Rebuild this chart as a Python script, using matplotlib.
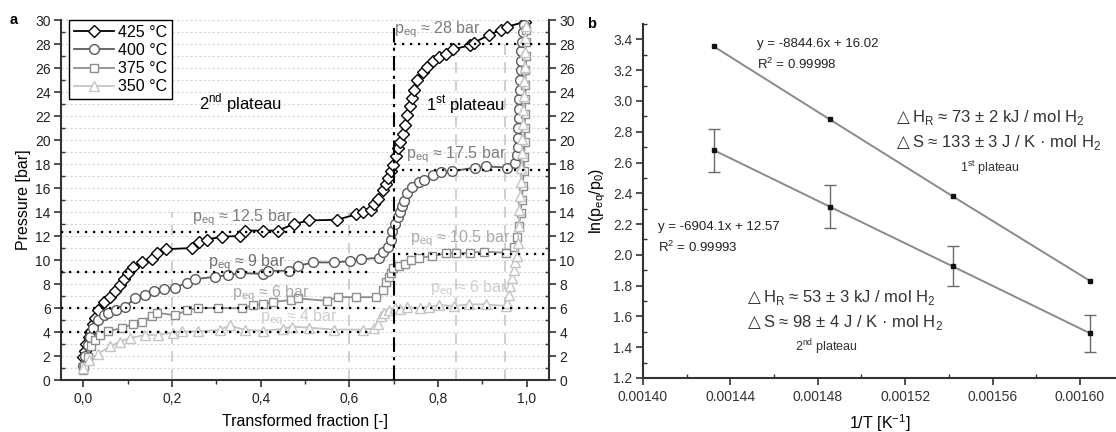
import matplotlib
matplotlib.use("Agg")
import matplotlib.pyplot as plt
from matplotlib.ticker import MultipleLocator, FuncFormatter

plt.rcParams["font.family"] = ["Liberation Sans", "DejaVu Sans"]
plt.rcParams["axes.unicode_minus"] = False

# ---------------- panel a: pressure vs transformed fraction ----------------
frac_425 = [0.000, 0.004, 0.007, 0.012, 0.016, 0.022, 0.027, 0.034, 0.046, 0.061,
            0.072, 0.083, 0.092, 0.102, 0.113, 0.132, 0.154, 0.166, 0.187, 0.246,
            0.261, 0.278, 0.314, 0.354, 0.364, 0.405, 0.439, 0.475, 0.510, 0.572,
            0.615, 0.630, 0.649, 0.656, 0.664, 0.676, 0.682, 0.688, 0.693, 0.699,
            0.704, 0.710, 0.715, 0.720, 0.726, 0.731, 0.736, 0.741, 0.746, 0.753,
            0.766, 0.776, 0.789, 0.802, 0.817, 0.834, 0.872, 0.880, 0.915, 0.941,
            0.956, 0.997]
p_425 = [1.9, 2.4, 3.0, 3.55, 4.0, 4.7, 5.2, 5.8, 6.5, 6.9,
         7.4, 7.9, 8.4, 8.9, 9.45, 9.8, 10.1, 10.55, 10.9, 11.0,
         11.5, 11.7, 11.95, 12.0, 12.45, 12.45, 12.45, 13.0, 13.3, 13.35,
         13.8, 14.0, 14.2, 14.7, 15.1, 15.8, 16.3, 16.8, 17.4, 17.9,
         18.7, 19.3, 19.8, 20.5, 21.25, 22.1, 22.8, 23.5, 24.2, 25.0,
         25.7, 26.1, 26.6, 26.9, 27.2, 27.55, 27.9, 28.1, 28.75, 29.2,
         29.45, 29.85]

frac_400 = [0.000, 0.005, 0.010, 0.016, 0.023, 0.034, 0.046, 0.057, 0.074, 0.094,
            0.117, 0.139, 0.160, 0.183, 0.207, 0.233, 0.252, 0.297, 0.327, 0.353,
            0.405, 0.416, 0.465, 0.484, 0.518, 0.566, 0.601, 0.626, 0.667, 0.675,
            0.686, 0.694, 0.697, 0.703, 0.709, 0.714, 0.719, 0.724, 0.731, 0.742,
            0.756, 0.769, 0.789, 0.806, 0.832, 0.883, 0.909, 0.956, 0.974, 0.978,
            0.979, 0.980, 0.981, 0.982, 0.983, 0.983, 0.984, 0.985, 0.986, 0.987,
            0.988, 0.989, 0.991, 0.993]
p_400 = [1.2, 2.0, 2.9, 3.6, 4.3, 5.0, 5.4, 5.55, 5.8, 6.1,
         6.8, 7.1, 7.45, 7.55, 7.7, 8.1, 8.4, 8.6, 8.75, 8.9,
         8.85, 9.1, 9.1, 9.5, 9.8, 9.8, 9.9, 10.05, 10.2, 10.7,
         11.1, 11.7, 12.4, 13.0, 13.6, 14.0, 14.5, 14.9, 15.6, 16.1,
         16.5, 16.7, 17.1, 17.3, 17.4, 17.7, 17.8, 17.7, 18.1, 18.75,
         19.4, 20.2, 21.0, 21.8, 22.6, 23.4, 24.2, 25.0, 25.8, 26.6,
         27.4, 28.2, 29.0, 29.6]

frac_375 = [0.000, 0.002, 0.010, 0.017, 0.026, 0.038, 0.057, 0.087, 0.113, 0.132,
            0.154, 0.166, 0.207, 0.234, 0.259, 0.304, 0.357, 0.383, 0.405, 0.428,
            0.469, 0.484, 0.549, 0.574, 0.615, 0.661, 0.676, 0.682, 0.690, 0.694,
            0.699, 0.712, 0.726, 0.739, 0.757, 0.787, 0.817, 0.840, 0.873, 0.903,
            0.952, 0.971, 0.978, 0.982, 0.986, 0.989, 0.991, 0.993, 0.994, 0.995,
            0.996, 0.996, 0.997, 0.997, 0.997, 0.998, 0.998, 0.998]
p_375 = [0.8, 1.2, 1.95, 2.8, 3.3, 3.75, 4.1, 4.3, 4.7, 4.86,
         5.3, 5.6, 5.4, 5.8, 6.0, 6.0, 5.97, 6.25, 6.3, 6.5,
         6.67, 6.8, 6.6, 6.9, 6.9, 6.9, 7.5, 8.2, 8.6, 8.95,
         9.3, 9.5, 9.7, 10.0, 10.2, 10.3, 10.55, 10.55, 10.6, 10.7,
         10.6, 11.1, 11.9, 12.8, 13.9, 15.0, 16.2, 17.4, 18.6, 19.8,
         21.0, 22.2, 23.4, 24.6, 25.8, 27.0, 28.2, 29.2]

frac_350 = [0.000, 0.012, 0.034, 0.061, 0.083, 0.106, 0.139, 0.169, 0.203, 0.222,
            0.259, 0.308, 0.330, 0.364, 0.405, 0.450, 0.471, 0.510, 0.566, 0.630,
            0.656, 0.664, 0.671, 0.679, 0.690, 0.703, 0.715, 0.731, 0.760, 0.780,
            0.802, 0.836, 0.870, 0.907, 0.952, 0.956, 0.960, 0.963, 0.967, 0.971,
            0.974, 0.977, 0.980, 0.982, 0.983, 0.985, 0.987, 0.988, 0.989, 0.990,
            0.991, 0.992, 0.993, 0.994, 0.995, 0.996, 0.997, 0.998]
p_350 = [0.97, 1.67, 2.2, 2.8, 3.2, 3.5, 3.75, 3.75, 3.95, 4.05,
         4.05, 4.17, 4.55, 4.17, 4.1, 4.25, 4.45, 4.36, 4.2, 4.2,
         4.3, 4.7, 5.3, 5.55, 5.8, 6.0, 5.9, 6.05, 6.0, 6.1,
         6.25, 6.17, 6.3, 6.3, 6.17, 6.4, 7.1, 7.8, 8.5, 9.2,
         9.8, 10.3, 11.4, 12.8, 14.2, 15.3, 16.5, 17.7, 18.9, 20.1,
         21.3, 22.5, 23.7, 24.9, 26.1, 27.3, 28.5, 29.5]

series_labels = ["425 °C", "400 °C", "375 °C", "350 °C"]
series_colors = ["#000000", "#5a5a5a", "#8e8e8e", "#c4c4c4"]
series_markers = ["D", "o", "s", "^"]
series_ms = [6.5, 7.0, 6.0, 7.0]

# equilibrium plateau pressures with their dotted guide segments
eq_labels = ["28", "17.5", "12.5", "9", "10.5", "6", "6", "4"]
eq_levels = [28, 17.5, 12.3, 9, 10.5, 6, 6, 4]
eq_from = [0.70, 0.70, -0.05, -0.05, 0.71, -0.05, 0.71, -0.05]
eq_to = [1.05, 1.05, 0.68, 0.645, 1.05, 0.665, 1.05, 0.645]
eq_text_x = [0.700, 0.727, 0.246, 0.282, 0.736, 0.335, 0.781, 0.398]
eq_text_y = [29.2, 18.75, 13.5, 9.8, 11.8, 7.2, 7.6, 5.15]
eq_text_col = ["#7c7c7c", "#7c7c7c", "#7c7c7c", "#6e6e6e",
               "#a8a8a8", "#a8a8a8", "#cdcdcd", "#cdcdcd"]

guide_x = [0.2, 0.6, 0.84, 0.95]
guide_top = [14, 14, 28, 28.3]
boundary_x = 0.70
boundary_top = 29.3

# ---------------- panel b: van 't Hoff plot ----------------
inv_T = [0.0014323, 0.0014855, 0.0015418, 0.0016047]
ln_p_1st = [3.355, 2.880, 2.380, 1.830]
ln_p_2nd = [2.681, 2.313, 1.925, 1.490]
err_2nd = [0.14, 0.14, 0.13, 0.12]

fig = plt.figure(figsize=(11.16, 4.32), dpi=100)
W, H = 1116.0, 432.0
ax = fig.add_axes([61 / W, 1 - 380 / H, (549 - 61) / W, 360 / H])

spine_col = "#333333"
for s in ["left", "right", "bottom"]:
    ax.spines[s].set_linewidth(1.5)
    ax.spines[s].set_color(spine_col)
ax.spines["top"].set_visible(False)

ax.set_xlim(-0.05, 1.05)
ax.set_ylim(0, 30)
ax.xaxis.set_major_locator(MultipleLocator(0.2))
ax.xaxis.set_minor_locator(MultipleLocator(0.1))
ax.yaxis.set_major_locator(MultipleLocator(2))
ax.yaxis.set_minor_locator(MultipleLocator(1))
ax.xaxis.set_major_formatter(FuncFormatter(lambda v, p: f"{v:.1f}".replace(".", ",")))
ax.tick_params(axis="y", which="both", left=True, right=True, labelleft=True,
               labelright=True, color=spine_col, labelsize=10, labelcolor="#222222")
ax.tick_params(axis="y", which="major", direction="out", length=5, width=1.2, pad=2.5)
ax.tick_params(axis="y", which="minor", direction="in", length=3, width=1.0)
ax.tick_params(axis="x", which="major", direction="out", length=5, width=1.2,
               color=spine_col, labelsize=10, labelcolor="#222222", pad=3.5)
ax.tick_params(axis="x", which="minor", direction="out", length=3, width=1.0,
               color=spine_col)

ax.grid(axis="y", which="both", color="#d6d6d6", linestyle=(0, (2, 2)),
        linewidth=0.8, zorder=0)
ax.set_axisbelow(True)

for gx, gt in zip(guide_x, guide_top):
    ax.plot([gx, gx], [0, gt], color="#cccccc", lw=1.3, ls=(0, (6, 4)), zorder=1)
ax.plot([boundary_x, boundary_x], [0, boundary_top], color="black", lw=1.5,
        ls=(0, (7, 2.5, 1.5, 2.5)), zorder=4)

for lvl, x0, x1 in zip(eq_levels, eq_from, eq_to):
    ax.plot([x0, x1], [lvl, lvl], color="black", lw=1.6, ls=(0, (1, 2.6)), zorder=4)

data = [(frac_425, p_425), (frac_400, p_400), (frac_375, p_375), (frac_350, p_350)]
handles = []
for (fx, py), lab, col, mk, ms in zip(data, series_labels, series_colors,
                                      series_markers, series_ms):
    h, = ax.plot(fx, py, color=col, lw=1.3, marker=mk, ms=ms, mfc="white",
                 mec=col, mew=1.0, label=lab, zorder=3)
    handles.append(h)

leg = ax.legend(handles=handles, loc="upper left", bbox_to_anchor=(0.016, 1.0),
                frameon=True, fancybox=False, edgecolor="black", framealpha=1,
                fontsize=11.5, handlelength=2.5, handletextpad=0.3,
                borderpad=0.3, labelspacing=0.2, borderaxespad=0.0)
leg.get_frame().set_linewidth(1.0)

for lab, tx, ty, tc in zip(eq_labels, eq_text_x, eq_text_y, eq_text_col):
    ax.text(tx, ty, r"p$_\mathregular{eq}$ ≈ " + lab + " bar", color=tc,
            fontsize=11.5, ha="left", va="center", zorder=5)

ax.text(0.355, 23.1, r"2$^\mathregular{nd}$ plateau", fontsize=12, ha="center",
        va="center", color="black")
ax.text(0.863, 22.9, r"1$^\mathregular{st}$ plateau", fontsize=12, ha="center",
        va="center", color="black")

ax.set_xlabel("Transformed fraction [-]", fontsize=11.5, labelpad=6)
ax.set_ylabel("Pressure [bar]", fontsize=11.5, labelpad=3)

# ---- panel b ----
bx = fig.add_axes([643 / W, 1 - 378 / H, (1116 - 643) / W, (378 - 24) / H])
for s in ["left", "bottom"]:
    bx.spines[s].set_linewidth(1.5)
    bx.spines[s].set_color(spine_col)
bx.spines["top"].set_visible(False)
bx.spines["right"].set_visible(False)

bx.set_xlim(0.0014, 0.0016165)
bx.set_ylim(1.2, 3.5)
bx.xaxis.set_major_locator(MultipleLocator(0.00004))
bx.xaxis.set_minor_locator(MultipleLocator(0.00002))
bx.yaxis.set_major_locator(MultipleLocator(0.2))
bx.yaxis.set_minor_locator(MultipleLocator(0.1))
bx.xaxis.set_major_formatter(FuncFormatter(lambda v, p: f"{v:.5f}"))
bx.yaxis.set_major_formatter(FuncFormatter(lambda v, p: f"{v:.1f}"))
bx.tick_params(which="major", direction="out", length=5, width=1.2,
               color=spine_col, labelsize=10, labelcolor="#333333")
bx.tick_params(which="minor", direction="in", length=3, width=1.0, color=spine_col)
bx.tick_params(axis="x", which="major", pad=3.5)
bx.tick_params(axis="y", which="major", pad=2.5)

line_col = "#8a8a8a"
bx.plot(inv_T, ln_p_1st, color=line_col, lw=1.4, marker="s", ms=3.2,
        mfc="#111111", mec="#111111", zorder=3)
bx.errorbar(inv_T, ln_p_2nd, yerr=err_2nd, color=line_col, lw=1.4, marker="s",
            ms=3.2, mfc="#111111", mec="#111111", ecolor="#6a6a6a",
            elinewidth=1.0, capsize=4, capthick=1.0, zorder=3)

fit_fs = 9.5
bx.text(0.001452, 3.37, "y = -8844.6x + 16.02", fontsize=fit_fs, ha="left",
        va="center", color="#222222")
bx.text(0.001452, 3.24, r"R$^\mathregular{2}$ = 0.99998", fontsize=fit_fs,
        ha="left", va="center", color="#222222")
bx.text(0.001407, 2.18, "y = -6904.1x + 12.57", fontsize=fit_fs, ha="left",
        va="center", color="#222222")
bx.text(0.001407, 2.05, r"R$^\mathregular{2}$ = 0.99993", fontsize=fit_fs,
        ha="left", va="center", color="#222222")

big_fs = 12
bx.text(0.0015143, 2.89,
        r"$\triangle$H$_\mathregular{R}$ ≈ 73 ± 2 kJ / mol H$_\mathregular{2}$",
        fontsize=big_fs, ha="left", va="center", color="#333333")
bx.text(0.0015143, 2.73,
        r"$\triangle$S ≈ 133 ± 3 J / K · mol H$_\mathregular{2}$",
        fontsize=big_fs, ha="left", va="center", color="#333333")
bx.text(0.001559, 2.565, r"1$^\mathregular{st}$ plateau", fontsize=9,
        ha="center", va="center", color="#333333")

bx.text(0.0014462, 1.72,
        r"$\triangle$H$_\mathregular{R}$ ≈ 53 ± 3 kJ / mol H$_\mathregular{2}$",
        fontsize=big_fs, ha="left", va="center", color="#333333")
bx.text(0.0014462, 1.56,
        r"$\triangle$S ≈ 98 ± 4 J / K · mol H$_\mathregular{2}$",
        fontsize=big_fs, ha="left", va="center", color="#333333")
bx.text(0.001484, 1.40, r"2$^\mathregular{nd}$ plateau", fontsize=9,
        ha="center", va="center", color="#333333")

bx.set_xlabel(r"1/T [K$^\mathregular{-1}$]", fontsize=11.5, labelpad=6)
bx.set_ylabel(r"ln(p$_\mathregular{eq}$/p$_\mathregular{0}$)", fontsize=11.5,
              labelpad=4)

fig.text(10 / W, 1 - 20 / H, "a", fontsize=10.5, weight="bold", ha="left",
         va="center")
fig.text(587 / W, 1 - 24 / H, "b", fontsize=10.5, weight="bold", ha="left",
         va="center")

fig.savefig("out.png", dpi=100)
